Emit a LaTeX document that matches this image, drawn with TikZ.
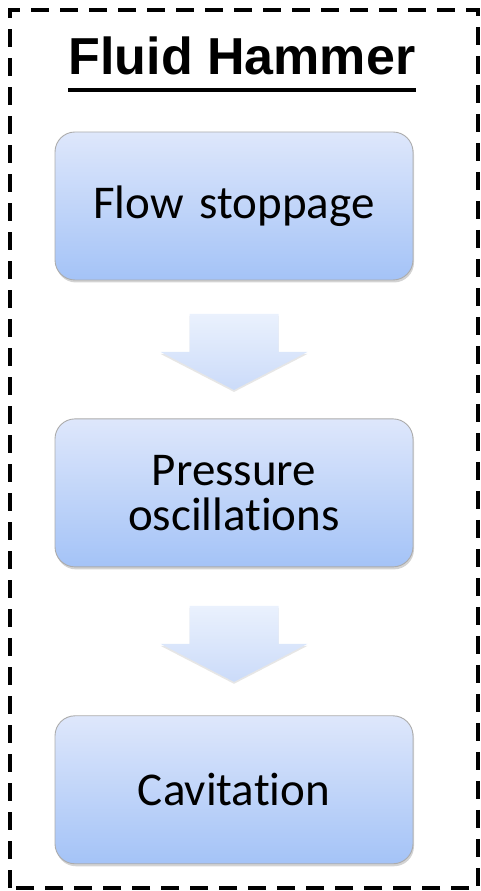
\documentclass[tikz,border=0pt]{standalone}
\usepackage{fontspec}
\newfontfamily\cuerpo[Ligatures=NoCommon]{Carlito}
\newfontfamily\titular{Liberation Sans}
\usepackage{tikz}
\usetikzlibrary{calc, positioning, shadows}
\definecolor{Boxtop}{RGB}{222,231,251}
\definecolor{Boxbot}{RGB}{164,195,247}
\definecolor{Arrtop}{RGB}{234,241,253}
\definecolor{Arrbot}{RGB}{203,219,249}

\begin{document}
\begin{tikzpicture}[
  x=1pt, y=1pt,
  stepbox/.style={
    rectangle, rounded corners=20pt, draw=gray!65, line width=0.9pt,
    top color=Boxtop, bottom color=Boxbot,
    drop shadow={opacity=0.35, shadow xshift=1pt, shadow yshift=-2.5pt},
    font=\cuerpo\fontsize{47}{45}\selectfont,
    minimum width=358pt, minimum height=148pt,
    text width=330pt, align=center
  },
  blockarr/.style={
    top color=Arrtop, bottom color=Arrbot,
    drop shadow={opacity=0.2, shadow xshift=0pt, shadow yshift=-2pt}
  },
  frame/.style={draw=black, line width=4.5pt, dash pattern=on 18pt off 11pt},
  ttl/.style={font=\titular\bfseries\fontsize{52}{60}\selectfont, inner sep=0pt}
]

\useasboundingbox (0,0) rectangle (481,891);

%% -- marco punteado -------------------------------------------------------
\draw[frame] (10,3) rectangle (478,881);

%% -- titulo ---------------------------------------------------------------
\node[ttl, anchor=base] (title) at (242,816) {Fluid Hammer};
\draw[line width=4pt] ([yshift=-15pt]title.base west) -- ([yshift=-15pt]title.base east);

%% -- cajas ----------------------------------------------------------------
\node[stepbox] (stop) at (234,685) {Flow stoppage};
\node[stepbox, below=138pt of stop] (osc) {Pressure\\oscillations};
\node[stepbox, below=148pt of osc]  (cav) {Cavitation};

%% -- flechas de bloque ----------------------------------------------------
\coordinate (m1) at ($(stop.south)!0.5!(osc.north)$);
\coordinate (m2) at ($(osc.south)!0.5!(cav.north)$);
\shade[blockarr] ($(m1)+(-44.5,35.5)$) -- ($(m1)+(44.5,35.5)$) -- ($(m1)+(44.5,-2.5)$)
  -- ($(m1)+(73.5,-2.5)$) -- ($(m1)+(0,-40.5)$) -- ($(m1)+(-73.5,-2.5)$)
  -- ($(m1)+(-44.5,-2.5)$) -- cycle;
\shade[blockarr] ($(m2)+(-44.5,35.5)$) -- ($(m2)+(44.5,35.5)$) -- ($(m2)+(44.5,-2.5)$)
  -- ($(m2)+(73.5,-2.5)$) -- ($(m2)+(0,-40.5)$) -- ($(m2)+(-73.5,-2.5)$)
  -- ($(m2)+(-44.5,-2.5)$) -- cycle;

\end{tikzpicture}
\end{document}
